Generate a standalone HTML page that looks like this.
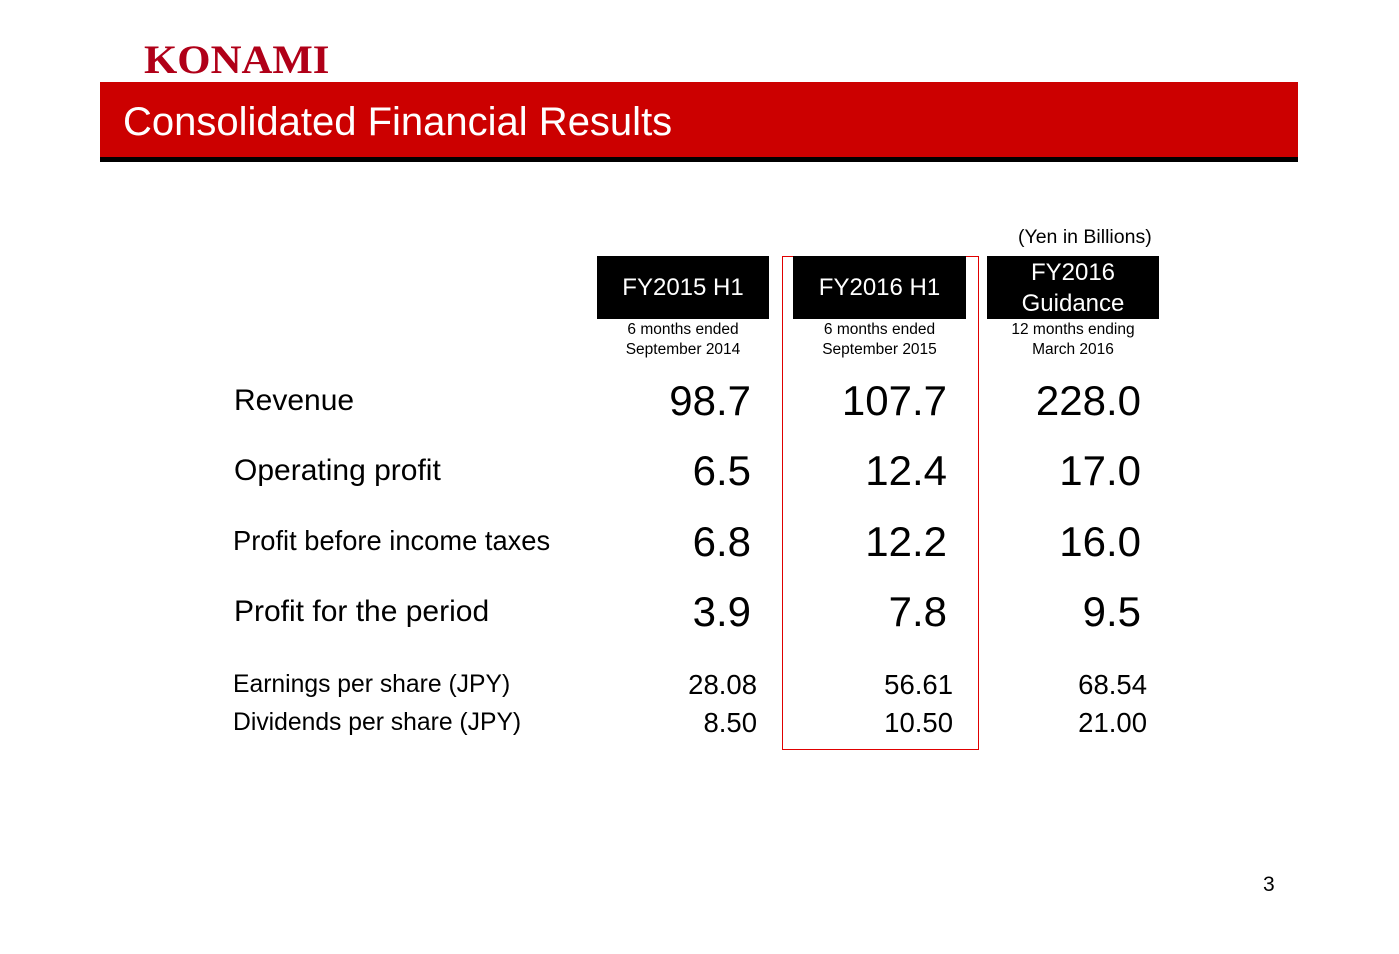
<!DOCTYPE html><html><head><style>
body{margin:0;width:1399px;height:954px;background:#fff;position:relative;font-family:"Liberation Sans",Arial,sans-serif;overflow:hidden}
.a{position:absolute;white-space:nowrap}
.hb{position:absolute;background:#000;color:#fff;text-align:center;font-size:24px;top:256px;height:63px}
.sub{position:absolute;text-align:center;font-size:15.5px;line-height:20px;top:320px;color:#000}
.lab{position:absolute;left:234px;font-size:30px;line-height:30px;white-space:nowrap}
.big{position:absolute;font-size:42px;line-height:44px;text-align:right;width:200px}
.sm{position:absolute;font-size:27.5px;line-height:28px;text-align:right;width:200px}
</style></head><body>
<div class="a" style="left:144px;top:36px;font-family:'Liberation Serif',serif;font-weight:bold;font-size:40px;color:#b00018;transform:scaleX(1.07);transform-origin:left">KONAMI</div>
<div style="position:absolute;left:100px;top:82px;width:1198px;height:75px;background:#cc0000"></div>
<div style="position:absolute;left:100px;top:157px;width:1198px;height:5px;background:#000"></div>
<div class="a" style="left:123px;top:100px;font-size:40px;color:#fff">Consolidated Financial Results</div>
<div class="a" style="left:1018px;top:226px;font-size:19.5px">(Yen in Billions)</div>
<div style="position:absolute;left:782px;top:256px;width:195px;height:492px;border:1px solid #e00000"></div>
<div class="hb" style="left:597px;width:172px;line-height:63px">FY2015 H1</div>
<div class="hb" style="left:793px;width:173px;line-height:63px">FY2016 H1</div>
<div class="hb" style="left:987px;width:172px;line-height:31px;padding-top:1px;height:62px">FY2016<br>Guidance</div>
<div class="sub" style="left:597px;width:172px">6 months ended<br>September 2014</div>
<div class="sub" style="left:793px;width:173px">6 months ended<br>September 2015</div>
<div class="sub" style="left:987px;width:172px">12 months ending<br>March 2016</div>
<div class="lab" style="top:386px">Revenue</div>
<div class="lab" style="top:456px">Operating profit</div>
<div class="lab" style="top:526px;left:233px;font-size:27.3px">Profit before income taxes</div>
<div class="lab" style="top:597px">Profit for the period</div>
<div class="lab" style="top:670px;left:233px;font-size:24.7px">Earnings per share (JPY)</div>
<div class="lab" style="top:708px;left:233px;font-size:24.7px">Dividends per share (JPY)</div>
<div class="big" style="left:551px;top:379px">98.7</div>
<div class="big" style="left:747px;top:379px">107.7</div>
<div class="big" style="left:941px;top:379px">228.0</div>
<div class="big" style="left:551px;top:449px">6.5</div>
<div class="big" style="left:747px;top:449px">12.4</div>
<div class="big" style="left:941px;top:449px">17.0</div>
<div class="big" style="left:551px;top:520px">6.8</div>
<div class="big" style="left:747px;top:520px">12.2</div>
<div class="big" style="left:941px;top:520px">16.0</div>
<div class="big" style="left:551px;top:590px">3.9</div>
<div class="big" style="left:747px;top:590px">7.8</div>
<div class="big" style="left:941px;top:590px">9.5</div>
<div class="sm" style="left:557px;top:671px">28.08</div>
<div class="sm" style="left:753px;top:671px">56.61</div>
<div class="sm" style="left:947px;top:671px">68.54</div>
<div class="sm" style="left:557px;top:709px">8.50</div>
<div class="sm" style="left:753px;top:709px">10.50</div>
<div class="sm" style="left:947px;top:709px">21.00</div>
<div class="a" style="left:1263px;top:873px;font-size:21px">3</div>
</body></html>
